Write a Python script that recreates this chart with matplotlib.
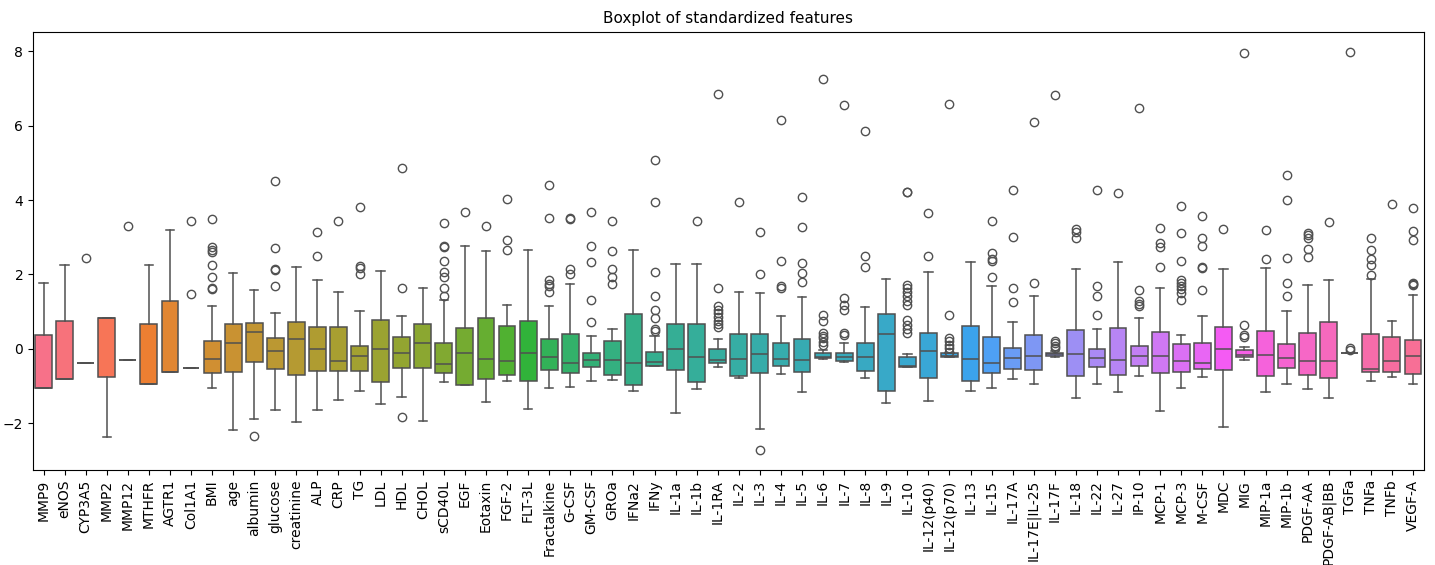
import matplotlib
matplotlib.use('Agg')
import matplotlib.pyplot as plt
import seaborn as sns

# Feature names (x axis)
features = ['MMP9', 'eNOS', 'CYP3A5', 'MMP2', 'MMP12', 'MTHFR', 'AGTR1', 'Col1A1', 'BMI', 'age',
            'albumin', 'glucose', 'creatinine', 'ALP', 'CRP', 'TG', 'LDL', 'HDL', 'CHOL', 'sCD40L',
            'EGF', 'Eotaxin', 'FGF-2', 'FLT-3L', 'Fractalkine', 'G-CSF', 'GM-CSF', 'GROa', 'IFNa2', 'IFNy',
            'IL-1a', 'IL-1b', 'IL-1RA', 'IL-2', 'IL-3', 'IL-4', 'IL-5', 'IL-6', 'IL-7', 'IL-8',
            'IL-9', 'IL-10', 'IL-12(p40)', 'IL-12(p70)', 'IL-13', 'IL-15', 'IL-17A', 'IL-17E|IL-25', 'IL-17F', 'IL-18',
            'IL-22', 'IL-27', 'IP-10', 'MCP-1', 'MCP-3', 'M-CSF', 'MDC', 'MIG', 'MIP-1a', 'MIP-1b',
            'PDGF-AA', 'PDGF-AB|BB', 'TGFa', 'TNFa', 'TNFb', 'VEGF-A']

# Box statistics
q1 = [-1.04, -0.80, -0.39, -0.76, -0.29, -0.94, -0.62, -0.52, -0.66, -0.62,
      -0.36, -0.55, -0.71, -0.59, -0.60, -0.60, -0.90, -0.51, -0.51, -0.66,
      -0.96, -0.82, -0.69, -0.86, -0.57, -0.64, -0.48, -0.69, -0.97, -0.45,
      -0.57, -0.88, -0.39, -0.73, -0.64, -0.45, -0.62, -0.25, -0.32, -0.60,
      -1.12, -0.48, -0.79, -0.21, -0.87, -0.66, -0.54, -0.57, -0.18, -0.73,
      -0.48, -0.70, -0.45, -0.64, -0.61, -0.55, -0.57, -0.21, -0.72, -0.52,
      -0.69, -0.78, -0.12, -0.63, -0.61, -0.68]
med = [-1.04, -0.80, -0.39, 0.83, -0.29, -0.94, -0.62, -0.52, -0.26, 0.17,
       0.45, -0.06, 0.26, 0.00, -0.32, -0.19, 0.00, -0.11, 0.17, -0.41,
       -0.11, -0.26, -0.32, -0.10, -0.21, -0.39, -0.31, -0.30, -0.39, -0.36,
       -0.01, -0.23, -0.30, -0.28, -0.13, -0.27, -0.30, -0.21, -0.22, -0.22,
       0.39, -0.45, -0.05, -0.18, -0.26, -0.37, -0.25, -0.20, -0.13, -0.13,
       -0.25, -0.30, -0.20, -0.18, -0.32, -0.39, 0.00, -0.17, -0.16, -0.24,
       -0.32, -0.32, -0.12, -0.54, -0.32, -0.19]
q3 = [0.38, 0.74, -0.39, 0.83, -0.29, 0.67, 1.30, -0.52, 0.22, 0.67,
      0.69, 0.29, 0.72, 0.60, 0.60, 0.09, 0.78, 0.33, 0.67, 0.16,
      0.57, 0.83, 0.62, 0.75, 0.26, 0.40, -0.12, 0.21, 0.94, -0.09,
      0.66, 0.67, -0.01, 0.40, 0.41, 0.15, 0.28, -0.12, -0.12, 0.15,
      0.94, -0.21, 0.43, -0.12, 0.61, 0.33, 0.02, 0.37, -0.10, 0.50,
      -0.01, 0.56, 0.08, 0.45, 0.13, 0.16, 0.60, -0.03, 0.48, 0.13,
      0.42, 0.73, -0.12, 0.39, 0.31, 0.23]
whislo = [-1.04, -0.80, -0.39, -2.36, -0.29, -0.94, -0.62, -0.52, -1.06, -2.18,
          -1.88, -1.64, -1.96, -1.64, -1.36, -1.14, -1.49, -1.30, -1.93, -0.88,
          -0.96, -1.42, -0.86, -1.62, -1.06, -1.03, -0.86, -0.83, -1.12, -0.47,
          -1.71, -1.08, -0.48, -0.79, -2.14, -0.68, -1.16, -0.27, -0.36, -0.77,
          -1.45, -0.48, -1.40, -0.23, -1.13, -1.04, -0.81, -0.94, -0.23, -1.31,
          -0.94, -1.15, -0.72, -1.66, -1.04, -0.76, -2.09, -0.31, -1.15, -0.94,
          -1.09, -1.33, -0.12, -0.85, -0.76, -0.94]
whishi = [1.77, 2.26, -0.39, 0.83, -0.29, 2.26, 3.20, -0.52, 1.14, 2.04,
          1.59, 0.96, 2.21, 1.84, 1.52, 1.01, 2.10, 0.89, 1.65, 1.32,
          2.76, 2.64, 1.19, 2.65, 1.16, 1.75, 0.36, 0.53, 2.66, 0.36,
          2.28, 2.28, 0.26, 1.54, 1.50, 0.89, 1.40, -0.03, 0.15, 1.13,
          1.88, -0.13, 2.08, -0.10, 2.33, 1.70, 0.73, 1.42, -0.06, 2.14,
          0.53, 2.33, 0.82, 1.65, 0.38, 0.89, 2.15, 0.04, 2.17, 1.02,
          1.71, 1.86, -0.12, 1.88, 0.74, 1.46]
fliers = [
    [], [], [2.44], [], [3.29], [], [], [3.45, 1.47],
    [3.48, 2.74, 2.67, 2.61, 2.26, 1.93, 1.63, 1.61],
    [],
    [-2.33],
    [4.52, 2.71, 2.16, 2.13, 1.68],
    [],
    [3.15, 2.51],
    [3.45],
    [3.82, 2.24, 2.17, 2.01],
    [],
    [4.85, 1.63, -1.84],
    [],
    [3.39, 2.77, 2.73, 2.36, 2.07, 1.93, 1.63, 1.43],
    [3.68],
    [3.31],
    [4.04, 2.93, 2.67],
    [],
    [4.40, 3.52, 1.85, 1.75, 1.68, 1.54],
    [3.52, 3.49, 2.15, 2.02],
    [3.67, 2.77, 2.33, 1.32, 0.73],
    [3.43, 2.64, 2.16, 1.93, 1.75],
    [],
    [5.08, 3.94, 2.06, 1.41, 1.05, 0.82, 0.53, 0.49],
    [],
    [3.45],
    [6.84, 1.65, 1.14, 1.05, 0.96, 0.87, 0.74, 0.67, 0.60],
    [3.96],
    [3.14, 2.02, -2.72],
    [6.15, 2.37, 1.68, 1.65],
    [4.07, 3.27, 2.32, 2.05, 1.80],
    [7.26, 0.92, 0.76, 0.42, 0.36, 0.29, 0.19, 0.11],
    [6.56, 1.37, 1.19, 1.05, 0.44, 0.38],
    [5.85, 2.51, 2.20],
    [],
    [4.23, 4.21, 1.72, 1.63, 1.53, 1.41, 1.29, 1.18, 0.78, 0.64, 0.53, 0.42],
    [3.64, 2.49],
    [6.59, 0.91, 0.29, 0.20, 0.11, 0.02, -0.07],
    [],
    [3.43, 2.59, 2.41, 2.37, 1.94],
    [4.26, 3.00, 1.63, 1.26],
    [6.11, 1.78],
    [6.82, 0.21, 0.15, 0.08, 0.02],
    [3.22, 3.13, 2.98],
    [4.26, 1.70, 1.41, 0.91],
    [4.20],
    [6.47, 1.59, 1.29, 1.20, 1.15],
    [3.25, 2.84, 2.73, 2.19],
    [3.84, 3.12, 2.37, 1.85, 1.77, 1.70, 1.61, 1.50, 1.32],
    [3.56, 2.98, 2.77, 2.20, 2.17, 1.59],
    [3.22],
    [7.94, 0.64, 0.37, 0.33],
    [3.19, 2.41],
    [4.67, 4.01, 2.43, 1.76, 1.41],
    [3.11, 3.06, 2.98, 2.69, 2.46],
    [3.41],
    [7.99, 0.02, -0.02],
    [2.98, 2.65, 2.41, 2.26, 1.99],
    [3.89],
    [3.80, 3.17, 2.93, 1.78, 1.75, 1.72],
]

stats = []
for i, name in enumerate(features):
    stats.append({'label': name, 'q1': q1[i], 'med': med[i], 'q3': q3[i],
                  'whislo': whislo[i], 'whishi': whishi[i], 'fliers': fliers[i]})

colors = sns.husl_palette(len(features))
line_col = '#505050'

fig = plt.figure(figsize=(14.35, 5.65), dpi=100)
ax = fig.add_axes([0.023, 0.168, 0.969, 0.776])

bp = ax.bxp(stats, positions=range(len(features)), widths=0.8, patch_artist=True,
            boxprops=dict(edgecolor=line_col, linewidth=1.1),
            whiskerprops=dict(color=line_col, linewidth=1.1),
            capprops=dict(color=line_col, linewidth=1.1),
            medianprops=dict(color=line_col, linewidth=1.1),
            flierprops=dict(marker='o', markerfacecolor='none', markeredgecolor=line_col,
                            markersize=6, markeredgewidth=1.0))
for patch, c in zip(bp['boxes'], colors):
    patch.set_facecolor(c)

ax.set_xlim(-0.5, len(features) - 0.5)
ax.set_xticks(range(len(features)))
ax.set_xticklabels(features, rotation=90, fontsize=10)
ax.tick_params(axis='y', labelsize=10)
ax.set_title('Boxplot of standardized features', fontsize=11)

plt.savefig('out.png')
